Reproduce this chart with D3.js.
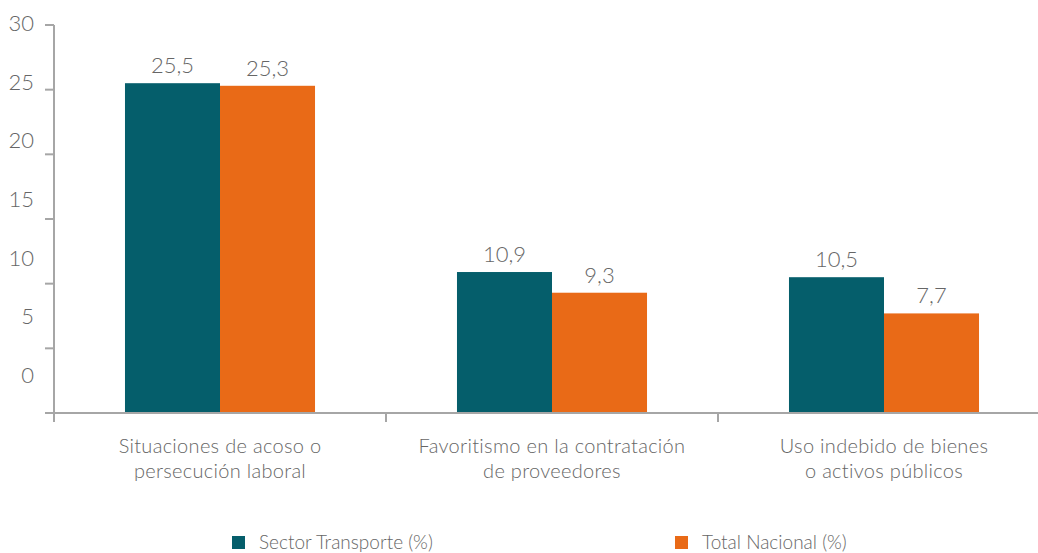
<!DOCTYPE html>
<html>
<head>
<meta charset="utf-8">
<script src="https://cdn.jsdelivr.net/npm/d3@7"></script>
<style>
  body { margin: 0; background: #fff; }
  text { font-family: Lato, "Open Sans", sans-serif; font-weight: 300; fill: #666666; }
</style>
</head>
<body>
<svg class="chart" width="1038" height="553"></svg>
<script>
var categories = [
    ["Situaciones de acoso o", "persecución laboral"],
    ["Favoritismo en la contratación", "de proveedores"],
    ["Uso indebido de bienes", "o activos públicos"]
];
var seriesNames = ["Sector Transporte (%)", "Total Nacional (%)"];
var transporte = [25.5, 10.9, 10.5];
var nacional = [25.3, 9.3, 7.7];
var yTicks = [0, 5, 10, 15, 20, 25, 30];
var colors = ["#055e6b", "#e96a17"];

var svgElem = d3.select("svg.chart");
var x0 = 54, x1 = 1050, yBase = 413, yTop = 25;

var x = d3.scaleBand().domain(d3.range(categories.length)).range([x0, x1]);
var xInner = d3.scaleBand().domain([0, 1]).range([0, x.bandwidth()]).paddingInner(0).paddingOuter(0.747);
var y = d3.scaleLinear().domain([0, 30]).range([yBase, yTop]);
// the tick labels in the original sit above their ticks, on a tighter spacing
var yLabel = d3.scaleLinear().domain([0, 30]).range([383, 31]);

var data = [];
categories.forEach(function (c, i) {
    data.push({ cat: i, s: 0, v: transporte[i] });
    data.push({ cat: i, s: 1, v: nacional[i] });
});

var axisColor = "#a6a6a6";

// bars
svgElem.selectAll("rect.bar")
    .data(data)
    .enter().append("rect")
    .attr("class", "bar")
    .attr("x", function (d) { return x(d.cat) + xInner(d.s); })
    .attr("width", xInner.bandwidth())
    .attr("y", function (d) { return y(d.v); })
    .attr("height", function (d) { return yBase - y(d.v); })
    .style("fill", function (d) { return colors[d.s]; });

// value labels
svgElem.selectAll("text.val")
    .data(data)
    .enter().append("text")
    .attr("class", "val")
    .attr("x", function (d) { return x(d.cat) + xInner(d.s) + xInner.bandwidth() / 2; })
    .attr("y", function (d) { return y(d.v) - 10; })
    .attr("text-anchor", "middle")
    .style("font-size", "22px")
    .text(function (d) { return d3.format(".1f")(d.v).replace(".", ","); });

// y axis
svgElem.append("line")
    .attr("x1", x0).attr("x2", x0).attr("y1", y(30)).attr("y2", yBase + 9)
    .style("stroke", axisColor).style("stroke-width", 2);
svgElem.selectAll("line.ytick")
    .data(yTicks)
    .enter().append("line")
    .attr("class", "ytick")
    .attr("x1", x0 - 9).attr("x2", x0)
    .attr("y1", function (d) { return y(d); }).attr("y2", function (d) { return y(d); })
    .style("stroke", axisColor).style("stroke-width", 2);
svgElem.selectAll("text.ylab")
    .data(yTicks)
    .enter().append("text")
    .attr("class", "ylab")
    .attr("x", 34)
    .attr("y", function (d) { return yLabel(d); })
    .attr("text-anchor", "end")
    .style("font-size", "22px")
    .text(function (d) { return d; });

// x axis
svgElem.append("line")
    .attr("x1", x0 - 9).attr("x2", 1038).attr("y1", yBase).attr("y2", yBase)
    .style("stroke", axisColor).style("stroke-width", 2);
svgElem.selectAll("line.xtick")
    .data(d3.range(1, categories.length))
    .enter().append("line")
    .attr("class", "xtick")
    .attr("x1", function (d) { return x(d); }).attr("x2", function (d) { return x(d); })
    .attr("y1", yBase).attr("y2", yBase + 9)
    .style("stroke", axisColor).style("stroke-width", 2);

var catLab = svgElem.selectAll("text.cat")
    .data(categories)
    .enter().append("text")
    .attr("class", "cat")
    .attr("text-anchor", "middle")
    .style("font-size", "20px")
    .style("letter-spacing", "0.3px");
catLab.each(function (lines, i) {
    d3.select(this).selectAll("tspan")
        .data(lines)
        .enter().append("tspan")
        .attr("x", x(i) + x.bandwidth() / 2)
        .attr("y", function (d, j) { return 453 + j * 25; })
        .text(function (d) { return d; });
});

// legend
var legendX = [232, 675];
var legend = svgElem.selectAll("g.legend")
    .data(seriesNames)
    .enter().append("g")
    .attr("class", "legend")
    .attr("transform", function (d, i) { return "translate(" + legendX[i] + ",535)"; });
legend.append("rect")
    .attr("y", 1)
    .attr("width", 13).attr("height", 13)
    .style("fill", function (d, i) { return colors[i]; });
legend.append("text")
    .attr("x", 27).attr("y", 14)
    .style("font-size", "19px")
    .text(function (d) { return d; });
</script>
</body>
</html>
